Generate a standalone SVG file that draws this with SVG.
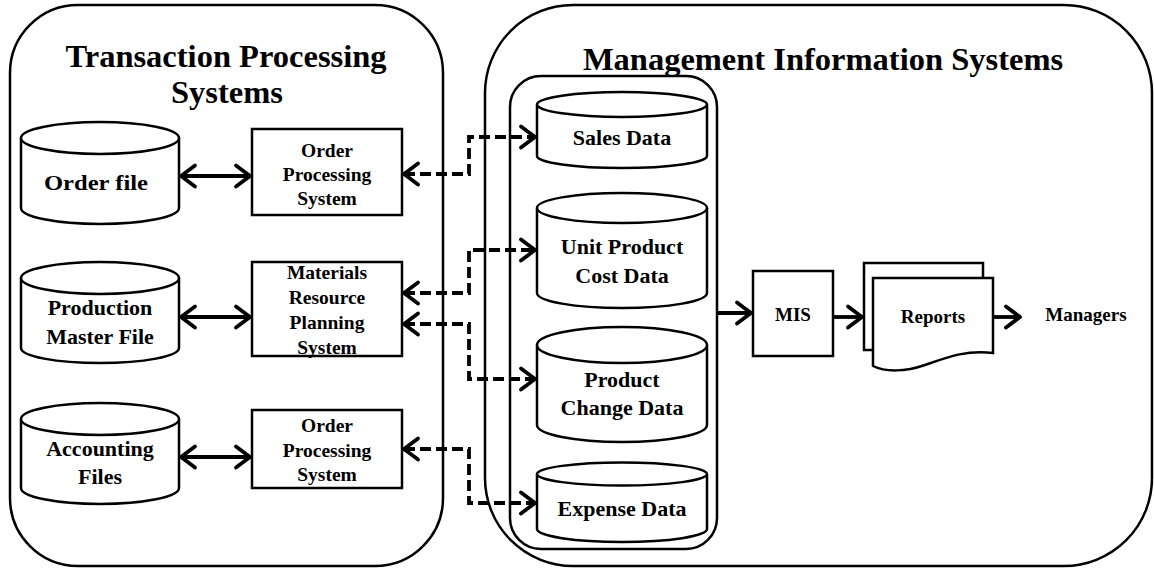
<svg xmlns="http://www.w3.org/2000/svg" width="1154" height="569" viewBox="0 0 1154 569">
<style>
.shape{fill:#fff;stroke:#000;stroke-width:2.5}
.cont{fill:none;stroke:#000;stroke-width:2.5}
.t{font-family:"Liberation Serif","Times New Roman",serif;font-weight:bold;fill:#000;text-anchor:middle}
.title{font-size:32.5px}
.cyl{font-size:22px}
.box{font-size:19.5px}
.side{font-size:19px}
.conn{fill:none;stroke:#000;stroke-width:3.8}
.dash{stroke-dasharray:11 5}
</style>
<defs>
<marker id="ah" viewBox="-17 -13 21 26" refX="0" refY="0" markerWidth="21" markerHeight="26" markerUnits="userSpaceOnUse" orient="auto-start-reverse" overflow="visible">
<path d="M-14,-10.5 L0,0 L-14,10.5" fill="none" stroke="#000" stroke-width="3.8" stroke-linecap="round" stroke-linejoin="round"/>
</marker>
</defs>
<rect width="1154" height="569" fill="#fff"/>

<g id="tps">
<rect class="cont" x="10" y="5" width="433" height="561" rx="68" ry="68"/>
<text class="t title" x="226" y="67">Transaction Processing</text>
<text class="t title" x="227" y="103">Systems</text>
</g>

<g id="mis-container">
<rect class="cont" x="485" y="5" width="667" height="561" rx="88" ry="88"/>
<text class="t title" x="823" y="70">Management Information Systems</text>
</g>

<g id="mis-data-store">
<rect class="cont" x="510" y="76" width="207" height="473" rx="31" ry="31"/>
</g>

<g id="order-file">
<path class="shape" d="M21,138 V208 A79,16 0 0 0 179,208 V138"/>
<ellipse class="shape" cx="100" cy="138" rx="79" ry="16"/>
<text class="t cyl" x="96" y="190" textLength="104" lengthAdjust="spacingAndGlyphs">Order file</text>
</g>

<g id="production-master-file">
<path class="shape" d="M21,278 V348 A79,15 0 0 0 179,348 V278"/>
<ellipse class="shape" cx="100" cy="278" rx="79" ry="16"/>
<text class="t cyl" x="100" y="315">Production</text>
<text class="t cyl" x="100" y="344">Master File</text>
</g>

<g id="accounting-files">
<path class="shape" d="M21,419 V488 A79,16 0 0 0 179,488 V419"/>
<ellipse class="shape" cx="100" cy="419" rx="79" ry="16"/>
<text class="t cyl" x="100" y="456">Accounting</text>
<text class="t cyl" x="100" y="484">Files</text>
</g>

<g id="order-processing-1">
<rect class="shape" x="252" y="129" width="150" height="86"/>
<text class="t box" x="327" y="157">Order</text>
<text class="t box" x="327" y="181">Processing</text>
<text class="t box" x="327" y="205">System</text>
</g>

<g id="mrp-system">
<rect class="shape" x="252" y="262" width="150" height="94"/>
<text class="t box" x="327" y="279">Materials</text>
<text class="t box" x="327" y="304">Resource</text>
<text class="t box" x="327" y="329">Planning</text>
<text class="t box" x="327" y="354">System</text>
</g>

<g id="order-processing-2">
<rect class="shape" x="252" y="410" width="150" height="78"/>
<text class="t box" x="327" y="432">Order</text>
<text class="t box" x="327" y="457">Processing</text>
<text class="t box" x="327" y="481">System</text>
</g>

<g id="sales-data">
<path class="shape" d="M537,104.5 V156 A85,12 0 0 0 707,156 V104.5"/>
<ellipse class="shape" cx="622" cy="104.5" rx="85" ry="12.5"/>
<text class="t cyl" x="622" y="145">Sales Data</text>
</g>

<g id="unit-product-cost-data">
<path class="shape" d="M537,208 V293 A85,15 0 0 0 707,293 V208"/>
<ellipse class="shape" cx="622" cy="208" rx="85" ry="15"/>
<text class="t cyl" x="622" y="254">Unit Product</text>
<text class="t cyl" x="622" y="283">Cost Data</text>
</g>

<g id="product-change-data">
<path class="shape" d="M537,345 V425 A85,17 0 0 0 707,425 V345"/>
<ellipse class="shape" cx="622" cy="345" rx="85" ry="18"/>
<text class="t cyl" x="622" y="387">Product</text>
<text class="t cyl" x="622" y="415">Change Data</text>
</g>

<g id="expense-data">
<path class="shape" d="M537,474 V529 A85,13 0 0 0 707,529 V474"/>
<ellipse class="shape" cx="622" cy="474" rx="85" ry="11.5"/>
<text class="t cyl" x="622" y="516">Expense Data</text>
</g>

<g id="mis">
<rect class="shape" x="753" y="271" width="80" height="85"/>
<text class="t side" x="793" y="321">MIS</text>
</g>

<g id="reports">
<rect class="shape" x="864" y="263" width="119" height="87"/>
<path class="shape" d="M873,278 H993 V353 C965,350 948,357 925,365 C905,372 885,372 873,366 Z"/>
<text class="t side" x="933" y="323">Reports</text>
</g>

<g id="managers">
<text class="t side" x="1086" y="321">Managers</text>
</g>

<g id="connectors">
<path class="conn" d="M181,176 H250" marker-start="url(#ah)" marker-end="url(#ah)"/>
<path class="conn" d="M181,317 H250" marker-start="url(#ah)" marker-end="url(#ah)"/>
<path class="conn" d="M181,457 H250" marker-start="url(#ah)" marker-end="url(#ah)"/>
<path class="conn dash" d="M404,174 H469 V137 H535" marker-start="url(#ah)" marker-end="url(#ah)"/>
<path class="conn dash" d="M404,293 H469 V250 H535" marker-start="url(#ah)" marker-end="url(#ah)"/>
<path class="conn dash" d="M404,324 H469 V379 H535" marker-start="url(#ah)" marker-end="url(#ah)"/>
<path class="conn dash" d="M404,449 H469 V503 H535" marker-start="url(#ah)" marker-end="url(#ah)"/>
<path class="conn" d="M718,313 H751" marker-end="url(#ah)"/>
<path class="conn" d="M834,317 H862" marker-end="url(#ah)"/>
<path class="conn" d="M994,317 H1020" marker-end="url(#ah)"/>
</g>
</svg>
